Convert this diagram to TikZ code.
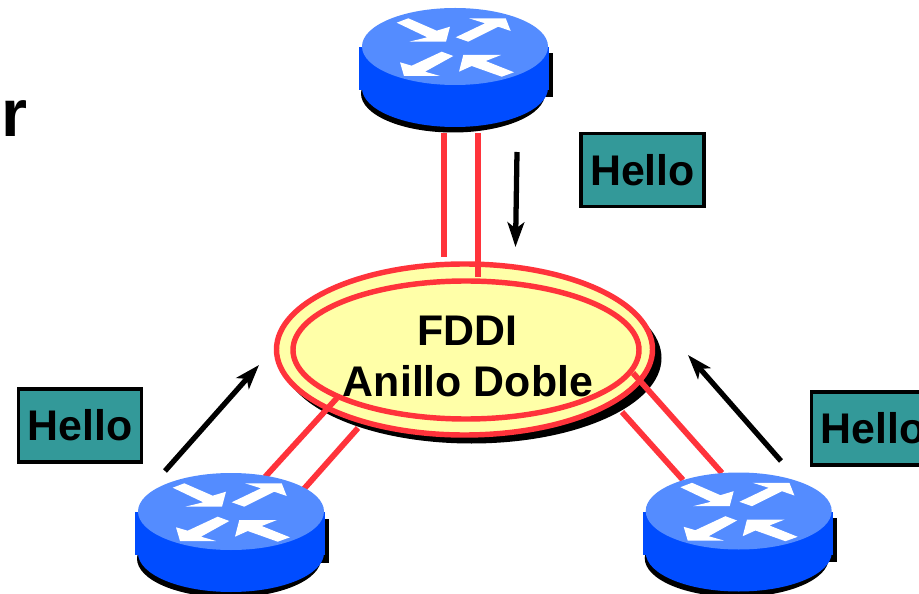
\documentclass[tikz,border=0pt]{standalone}
\usepackage{fontspec}
\setmainfont{Liberation Sans}
\usetikzlibrary{arrows.meta}
\definecolor{routertop}{rgb}{0.33,0.55,1.0}
\definecolor{routerside}{rgb}{0.0,0.3,1.0}
\definecolor{ringred}{rgb}{1.0,0.2,0.23}
\definecolor{ringyellow}{rgb}{1.0,1.0,0.66}
\definecolor{helloteal}{rgb}{0.2,0.6,0.6}
\tikzset{
  fiber/.style={ringred,line width=3.3pt},
  ringline/.style={draw=ringred,line width=3.1pt,fill=ringyellow},
  flow/.style={-{Stealth[length=14pt,width=9.5pt,inset=3.5pt]},line width=3pt,black},
  hellobox/.style={draw=black,fill=helloteal,line width=1.8pt,minimum width=2.46cm,minimum height=1.46cm,inner sep=0pt,font=\fontsize{24.4}{28}\selectfont\bfseries},
  ringtext/.style={anchor=base,inner sep=0pt,font=\fontsize{24.4}{28}\selectfont\bfseries}
}
\newcommand{\drawrouter}[1]{
  \begin{scope}[shift={#1}]
  % shadow
  \fill[black] (-90,7) rectangle (98,51);
  \fill[black] (-2,47) ellipse [x radius=92, y radius=39];
  % body
  \fill[routerside] (-96,0.5) rectangle (94,43.5);
  \fill[routerside] (0,41.5) ellipse [x radius=93, y radius=39];
  \fill[routertop] (0,0) ellipse [x radius=93, y radius=38.5];
  % arrows
  \fill[white] (-58.3,-23.8) -- (-46.7,-28.2) -- (-18.3,-15.8) -- (-5,-19.8) -- (-9,-4.8) -- (-45.7,-4.8) -- (-27.7,-9.2) -- cycle;
  \fill[white] (0.7,-9.2) -- (30,-23.2) -- (14,-28.2) -- (50.7,-28.2) -- (55.7,-15.5) -- (43.3,-19.8) -- (13.3,-4.8) -- cycle;
  \fill[white] (-1.7,9.5) -- (-13.3,5.2) -- (-43.3,19.2) -- (-55,15.8) -- (-51,29.5) -- (-15,29.5) -- (-30,25.2) -- cycle;
  \fill[white] (59,25.8) -- (46.7,30.2) -- (16.7,19.5) -- (4,25.2) -- (8.3,8.5) -- (46,8.5) -- (30.7,14.5) -- cycle;
  \end{scope}
}

\begin{document}
\begin{tikzpicture}[x=0.02cm,y=-0.02cm]
      \clip (0,0) rectangle (919,594);
      \fill[white] (0,0) rectangle (919,594);
      \node[anchor=base,inner sep=0pt,font=\fontsize{38}{40}\selectfont\bfseries] (titleend) at (14.5,137) {r};
      % ring
      \fill[black] (471.5,358) ellipse [x radius=190, y radius=85.5];
      \path[ringline] (464.5,349.5) ellipse [x radius=188, y radius=85.5];
      \path[ringline] (466,350) ellipse [x radius=173, y radius=69];
      % fiber ends
      \coordinate (topa) at (444,133);
      \coordinate (topb) at (478,133);
      \coordinate (ringa) at (444,257);
      \coordinate (ringb) at (478,277);
      \coordinate (lefta) at (265,477);
      \coordinate (leftb) at (303,490);
      \coordinate (ringc) at (337,398);
      \coordinate (ringd) at (358,428);
      \coordinate (righta) at (722,473);
      \coordinate (rightb) at (683,480);
      \coordinate (ringe) at (633,373);
      \coordinate (ringf) at (622,412);
      \draw[fiber] (topa) -- (ringa);
      \draw[fiber] (topb) -- (ringb);
      \draw[fiber] (lefta) -- (ringc);
      \draw[fiber] (leftb) -- (ringd);
      \draw[fiber] (righta) -- (ringe);
      \draw[fiber] (rightb) -- (ringf);
      \node[ringtext] (fddi) at (467.5,345) {FDDI};
      \node[ringtext] (doble) at (468,396) {Anillo Doble};
      % routers
      \drawrouter{(455,46.5)};
      \drawrouter{(231,511.5)};
      \drawrouter{(738.7,511)};
      % hello messages
      \node[hellobox] (hellotop) at (642.5,170) {Hello};
      \node[hellobox] (helloleft) at (80,425.5) {Hello};
      \node[hellobox] (helloright) at (873,428.5) {Hello};
      \coordinate (flowtopa) at (517,152);
      \coordinate (flowtopb) at (515.5,247);
      \coordinate (flowlefta) at (165,471);
      \coordinate (flowleftb) at (259,365);
      \coordinate (flowrighta) at (781,461);
      \coordinate (flowrightb) at (688,355);
      \draw[flow] (flowtopa) -- (flowtopb);
      \draw[flow] (flowlefta) -- (flowleftb);
      \draw[flow] (flowrighta) -- (flowrightb);
    \end{tikzpicture}
\end{document}
